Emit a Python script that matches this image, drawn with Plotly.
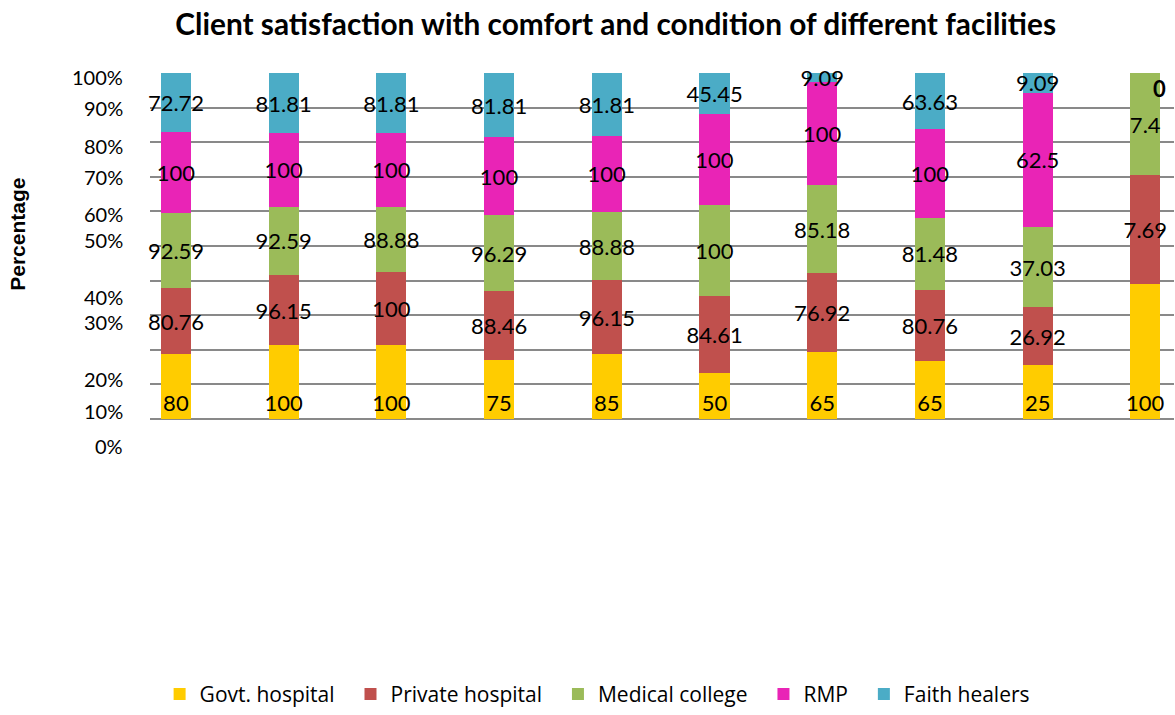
import plotly.graph_objects as go

categories = ["1", "2", "3", "4", "5", "6", "7", "8", "9", "10"]
series_names = ["Govt. hospital", "Private hospital", "Medical college", "RMP", "Faith healers"]

govt = [80, 100, 100, 75, 85, 50, 65, 65, 25, 100]
private = [80.76, 96.15, 100, 88.46, 96.15, 84.61, 76.92, 80.76, 26.92, 80.3]
medical = [92.59, 92.59, 88.88, 96.29, 88.88, 100, 85.18, 81.48, 37.03, 75.4]
rmp = [100, 100, 100, 100, 100, 100, 100, 100, 62.5, 0]
faith = [72.72, 81.81, 81.81, 81.81, 81.81, 45.45, 9.09, 63.63, 9.09, 0]

govt_text = ["80", "100", "100", "75", "85", "50", "65", "65", "25", "100"]
private_text = ["80.76", "96.15", "100", "88.46", "96.15", "84.61", "76.92", "80.76", "26.92", "7.69"]
medical_text = ["92.59", "92.59", "88.88", "96.29", "88.88", "100", "85.18", "81.48", "37.03", "7.4"]
rmp_text = ["100", "100", "100", "100", "100", "100", "100", "100", "62.5", ""]
faith_text = ["72.72", "81.81", "81.81", "81.81", "81.81", "45.45", "9.09", "63.63", "9.09", "0"]

tick_labels = ["100%", "90%", "80%", "70%", "60%", "50%", "40%", "30%", "20%", "10%", "0%"]
# paper positions where the (misaligned) tick labels sit
tick_label_pos = [0.988, 0.898, 0.790, 0.699, 0.593, 0.516, 0.354, 0.280, 0.116, 0.022, -0.079]

colors = ["#FFCC00", "#C0504D", "#9BBB59", "#E924B6", "#4BACC6"]
values = [govt, private, medical, rmp, faith]
texts = [govt_text, private_text, medical_text, rmp_text, faith_text]

label_font = dict(family="Lato, Carlito, sans-serif", size=22, color="black")

fig = go.Figure()
for i, (name, vals, txt, col) in enumerate(zip(series_names, values, texts, colors)):
    fig.add_trace(go.Bar(
        x=categories, y=vals, name=name + "\u00a0\u00a0", marker_color=col, marker_line_width=0,
        width=0.28, text=[t if v > 0 else "" for t, v in zip(txt, vals)],
        textposition="inside", textangle=0,
        insidetextanchor="start" if i == 0 else "middle",
        constraintext="none", textfont=label_font, cliponaxis=False,
    ))

annotations = []
for lab, pos in zip(tick_labels, tick_label_pos):
    annotations.append(dict(text=lab, xref="paper", yref="paper", x=-0.024, y=pos,
                            xanchor="right", yanchor="middle", showarrow=False,
                            font=dict(family="Lato, Carlito, sans-serif", size=20, color="black")))
annotations.append(dict(text="<b>Percentage</b>", xref="paper", yref="paper", x=-0.129, y=0.535,
                        textangle=-90, xanchor="center", yanchor="middle", showarrow=False,
                        font=dict(family="Liberation Sans, Arial, sans-serif", size=21, color="black")))
# label of the zero-height segments in the last column
annotations.append(dict(text="<b>" + faith_text[9] + "</b>", xref="paper", yref="paper",
                        x=0.986, y=0.955, xanchor="center", yanchor="middle", showarrow=False,
                        font=dict(family="Lato, Carlito, sans-serif", size=22, color="black")))

fig.update_layout(
    width=1175, height=715,
    barmode="stack", barnorm="percent",
    paper_bgcolor="white", plot_bgcolor="white",
    margin=dict(l=150, r=1, t=73, b=296),
    title=dict(text="<b>Client satisfaction with comfort and condition of different facilities</b>",
               x=0.524, xref="container", xanchor="center",
               y=0.966, yref="container", yanchor="middle",
               font=dict(family="Lato, Carlito, sans-serif", size=29.8, color="black")),
    xaxis=dict(type="category", range=[-0.2414, 9.266], showticklabels=False,
               showgrid=False, zeroline=False, showline=False, ticks=""),
    yaxis=dict(range=[0, 100], dtick=10, showticklabels=False, showgrid=True,
               gridcolor="#898989", gridwidth=1.5, zeroline=True, zerolinecolor="#898989",
               zerolinewidth=1.5, ticks=""),
    legend=dict(orientation="h", x=0.442, xanchor="center", y=-0.855, yanchor="bottom",
                traceorder="normal", font=dict(family="Open Sans, sans-serif", size=21, color="black"),
                itemwidth=30),
    annotations=annotations,
    showlegend=True,
)

fig.write_html("out.html", post_script="document.body.style.margin='0';",
               config={"displayModeBar": False})
